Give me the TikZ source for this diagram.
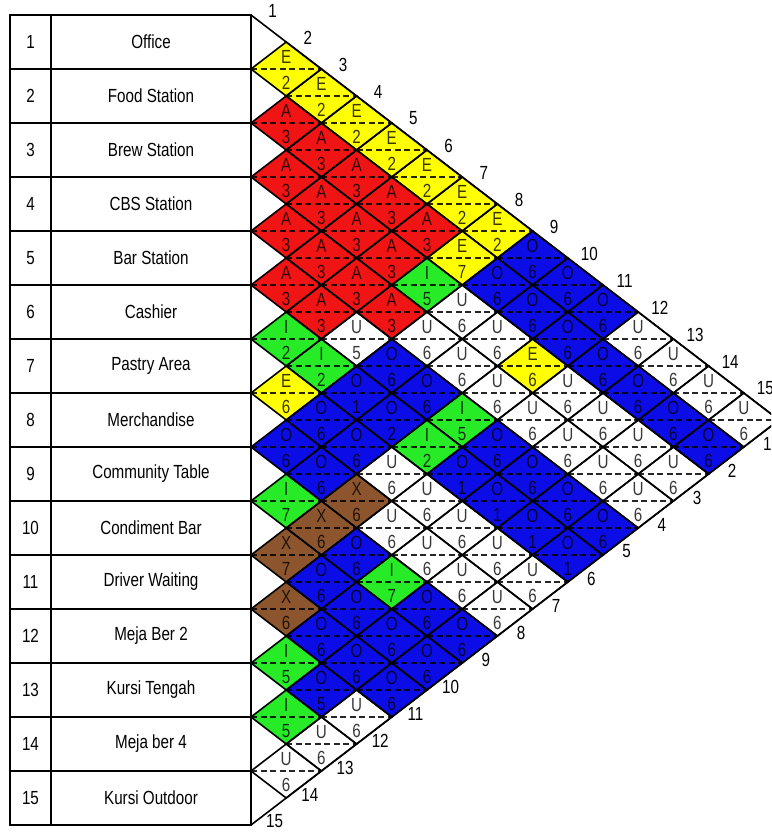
\documentclass[tikz,border=0pt]{standalone}
\usepackage{fontspec}
\setmainfont{Liberation Sans}[FakeStretch=0.8]
\definecolor{cY}{RGB}{255,255,0}
\definecolor{cR}{RGB}{240,20,20}
\definecolor{cG}{RGB}{40,235,40}
\definecolor{cB}{RGB}{12,12,230}
\definecolor{cX}{RGB}{140,85,45}
\definecolor{cW}{RGB}{255,255,255}
\tikzset{
  edgeline/.style={line width=1.6pt, line join=miter},
  dsh/.style={line width=2pt, dash pattern=on 6pt off 3.5pt},
  dlabel/.style={inner sep=0pt, font=\fontsize{19}{19}\selectfont},
  tbltext/.style={inner sep=0pt, font=\fontsize{19}{19}\selectfont},
  tblline/.style={line width=1.8pt},
}
\def\pairs{1/2/cY/E/2, 1/3/cY/E/2, 1/4/cY/E/2, 1/5/cY/E/2, 1/6/cY/E/2, 1/7/cY/E/2, 1/8/cY/E/2, 1/9/cB/O/6, 1/10/cB/O/6, 1/11/cB/O/6, 1/12/cW/U/6, 1/13/cW/U/6, 1/14/cW/U/6, 1/15/cW/U/6,
2/3/cR/A/3, 2/4/cR/A/3, 2/5/cR/A/3, 2/6/cR/A/3, 2/7/cR/A/3, 2/8/cY/E/7, 2/9/cB/O/6, 2/10/cB/O/6, 2/11/cB/O/6, 2/12/cB/O/6, 2/13/cB/O/6, 2/14/cB/O/6, 2/15/cB/O/6,
3/4/cR/A/3, 3/5/cR/A/3, 3/6/cR/A/3, 3/7/cR/A/3, 3/8/cG/I/5, 3/9/cW/U/6, 3/10/cW/U/6, 3/11/cY/E/6, 3/12/cW/U/6, 3/13/cW/U/6, 3/14/cW/U/6, 3/15/cW/U/6,
4/5/cR/A/3, 4/6/cR/A/3, 4/7/cR/A/3, 4/8/cR/A/3, 4/9/cW/U/6, 4/10/cW/U/6, 4/11/cW/U/6, 4/12/cW/U/6, 4/13/cW/U/6, 4/14/cW/U/6, 4/15/cW/U/6,
5/6/cR/A/3, 5/7/cR/A/3, 5/8/cW/U/5, 5/9/cB/O/6, 5/10/cB/O/6, 5/11/cG/I/5, 5/12/cB/O/6, 5/13/cB/O/6, 5/14/cB/O/6, 5/15/cB/O/6,
6/7/cG/I/2, 6/8/cG/I/2, 6/9/cB/O/1, 6/10/cB/O/2, 6/11/cG/I/2, 6/12/cB/O/1, 6/13/cB/O/1, 6/14/cB/O/1, 6/15/cB/O/1,
7/8/cY/E/6, 7/9/cB/O/6, 7/10/cB/O/6, 7/11/cW/U/6, 7/12/cW/U/6, 7/13/cW/U/6, 7/14/cW/U/6, 7/15/cW/U/6,
8/9/cB/O/6, 8/10/cB/O/6, 8/11/cX/X/6, 8/12/cW/U/6, 8/13/cW/U/6, 8/14/cW/U/6, 8/15/cW/U/6,
9/10/cG/I/7, 9/11/cX/X/6, 9/12/cB/O/6, 9/13/cG/I/7, 9/14/cB/O/6, 9/15/cB/O/6,
10/11/cX/X/7, 10/12/cB/O/6, 10/13/cB/O/6, 10/14/cB/O/6, 10/15/cB/O/6,
11/12/cX/X/6, 11/13/cB/O/6, 11/14/cB/O/6, 11/15/cB/O/6,
12/13/cG/I/5, 12/14/cB/O/5, 12/15/cW/U/6,
13/14/cG/I/5, 13/15/cW/U/6,
14/15/cW/U/6}
\begin{document}
\begin{tikzpicture}[x=1pt,y=-1pt]
\useasboundingbox (0,0) rectangle (771,832);
\clip (0,0) rectangle (771,832);
\fill[white] (0,0) rectangle (771,832);
% diamonds: fill, dashed divider, texts
\foreach \i/\j/\c/\L/\N in \pairs {
  \pgfmathsetmacro\cx{251+(\j-\i)*35.2}
  \pgfmathsetmacro\cy{15+(\i+\j-1)*27}
  \coordinate (d-\i-\j) at (\cx,\cy);
  \fill[fill=\c] (\cx-35.2,\cy) -- (\cx,\cy-27) -- (\cx+35.2,\cy) -- (\cx,\cy+27) -- cycle;
  \draw[dsh, draw=\c!15!black] (\cx-35.2,\cy) -- (\cx+35.2,\cy);
  \node[dlabel, text=\c!22!black] (L-\i-\j) at (\cx,\cy-12) {\L};
  \node[dlabel, text=\c!22!black] (N-\i-\j) at (\cx,\cy+14) {\N};
}
% diamond outlines
\foreach \i/\j/\c/\L/\N in \pairs {
  \pgfmathsetmacro\cx{251+(\j-\i)*35.2}
  \pgfmathsetmacro\cy{15+(\i+\j-1)*27}
  \draw[edgeline] (\cx-35.2,\cy) -- (\cx,\cy-27) -- (\cx+35.2,\cy) -- (\cx,\cy+27) -- cycle;
}
% outer triangle
\coordinate (ttop) at (251,15);
\coordinate (tbot) at (251,825);
\coordinate (apex) at (779,420);
\draw[edgeline] (ttop) -- (apex) -- (tbot);
% edge numbers
\foreach \k in {1,...,15} {
  \pgfmathsetmacro\tx{251+(\k-0.5)*35.2+4}
  \pgfmathsetmacro\ty{15+(\k-0.5)*27-18}
  \node[tbltext] (top-\k) at (\tx,\ty) {\k};
  \pgfmathsetmacro\bx{251+(15-\k+0.5)*35.2+6}
  \pgfmathsetmacro\by{825-(15-\k+0.5)*27+10}
  \node[tbltext] (bot-\k) at (\bx,\by) {\k};
}
% table
\draw[tblline] (10,15) rectangle (251,825);
\draw[tblline] (51,15) -- (51,825);
\foreach \k in {1,...,14} {
  \draw[tblline] (10,15+54*\k) -- (251,15+54*\k);
}
\foreach \k/\name in {1/Office, 2/Food Station, 3/Brew Station, 4/CBS Station, 5/Bar Station, 6/Cashier, 7/Pastry Area, 8/Merchandise, 9/Community Table, 10/Condiment Bar, 11/Driver Waiting, 12/Meja Ber 2, 13/Kursi Tengah, 14/Meja ber 4, 15/Kursi Outdoor} {
  \node[tbltext] (num-\k) at (30.5,15+54*\k-27) {\k};
  \node[tbltext] (name-\k) at (151,15+54*\k-27) {\name};
}
\end{tikzpicture}
\end{document}
